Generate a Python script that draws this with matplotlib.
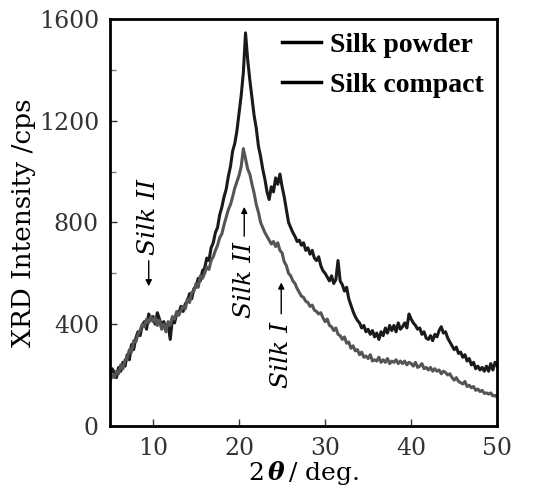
import matplotlib.pyplot as plt
import numpy as np
from matplotlib.ticker import MultipleLocator

plt.rcParams['font.family'] = 'DejaVu Serif'
plt.rcParams['mathtext.fontset'] = 'dejavuserif'

# 2-theta grid, 0.25 deg steps from 5 to 50
two_theta = np.arange(5, 50.01, 0.25)

# intensities (cps), four values per degree
silk_powder = [
    195, 225, 210, 190,  230, 215, 250, 235,  280, 260, 320, 300,  345, 370, 355, 395,
    410, 380, 440, 415,  430, 400, 445, 420,  395, 410, 380, 400,  340, 420, 405, 440,
    445, 470, 450, 480,  490, 520, 500, 540,  545, 580, 570, 610,  620, 660, 650, 700,
    720, 760, 780, 830,  860, 900, 930, 980,  1020, 1080, 1110, 1160,  1230, 1300, 1390, 1545,
    1440, 1360, 1290, 1220,  1170, 1100, 1060, 1010,  970, 920, 890, 940,  920, 975, 950, 990,
    940, 900, 850, 800,  780, 760, 745, 725,  730, 710, 720, 690,  700, 675, 690, 660,
    650, 665, 630, 610,  600, 585, 570, 590,  560, 575, 650, 570,  555, 530, 545, 500,
    475, 450, 430, 415,  405, 385, 395, 370,  380, 360, 375, 350,  365, 340, 370, 355,
    385, 365, 395, 375,  395, 370, 405, 380,  390, 405, 385, 440,  420, 405, 395, 380,
    385, 360, 370, 345,  340, 355, 335, 360,  350, 375, 390, 365,  370, 345, 330, 315,
    300, 310, 285, 290,  270, 280, 255, 265,  240, 250, 225, 235,  220, 230, 215, 235,
    215, 245, 220, 250,  235,
]
silk_compact = [
    175, 200, 190, 215,  205, 240, 225, 260,  265, 300, 290, 335,  330, 360, 375, 400,
    390, 420, 405, 430,  410, 425, 395, 415,  380, 400, 370, 410,  395, 430, 420, 450,
    435, 455, 470, 460,  500, 485, 525, 530,  560, 545, 590, 580,  600, 625, 615, 650,
    665, 690, 710, 740,  755, 790, 820, 850,  870, 900, 935, 960,  985, 1020, 1090, 1050,
    1010, 990, 950, 915,  870, 840, 800, 780,  760, 745, 730, 715,  725, 705, 720, 690,
    680, 645, 630, 600,  590, 570, 560, 540,  525, 510, 505, 490,  485, 470, 475, 455,
    450, 440, 445, 425,  410, 420, 395, 390,  375, 385, 360, 355,  340, 350, 325, 330,
    305, 315, 295, 300,  280, 290, 270, 275,  265, 280, 255, 260,  255, 270, 250, 260,
    250, 265, 245, 255,  250, 260, 245, 255,  245, 255, 240, 250,  245, 235, 250, 230,
    235, 245, 225, 230,  220, 230, 215, 225,  215, 220, 205, 215,  210, 200, 205, 190,
    180, 190, 175, 170,  165, 175, 155, 160,  150, 155, 140, 145,  135, 140, 128, 130,
    125, 130, 118, 120,  112,
]

fig = plt.figure(figsize=(5.5, 4.97), dpi=100)
ax = fig.add_axes([0.2, 0.143, 0.704, 0.819])

ax.plot(two_theta, silk_powder, color='#1a1a1a', lw=2.2, label='Silk powder')
ax.plot(two_theta, silk_compact, color='#555555', lw=2.2, label='Silk compact')

ax.set_xlim(5, 50)
ax.set_ylim(0, 1600)
ax.xaxis.set_major_locator(MultipleLocator(10))
ax.yaxis.set_major_locator(MultipleLocator(400))
ax.yaxis.set_minor_locator(MultipleLocator(200))
ax.tick_params(direction='in', length=5, width=1, labelsize=17, colors='#333333', pad=8)
ax.tick_params(which='minor', direction='in', length=4, width=1, color='#777777')
for sp in ax.spines.values():
    sp.set_linewidth(2)

ax.set_ylabel('XRD Intensity /cps', fontsize=19, labelpad=2)
ax.set_xlabel(r'2$\,\boldsymbol{\theta}\,$/ deg.', fontsize=18, labelpad=-1)

leg = ax.legend(loc='upper right', frameon=False, handlelength=1.4, handletextpad=0.3,
                borderaxespad=0.1, labelspacing=0.5,
                prop={'family': 'Liberation Serif', 'weight': 'bold', 'size': 20})
for line in leg.get_lines():
    line.set_color('black')
    line.set_linewidth(2.5)

# peak markers
lab = dict(rotation=90, style='italic', fontsize=18, ha='center', va='center')
arr = dict(arrowstyle='-|>', color='black', lw=1, mutation_scale=9)
ax.text(9.5, 820, 'Silk II', **lab)
ax.annotate('', xy=(9.5, 538), xytext=(9.5, 660), arrowprops=arr)
ax.text(20.6, 575, 'Silk II', **lab)
ax.annotate('', xy=(20.6, 872), xytext=(20.6, 735), arrowprops=arr)
ax.text(24.9, 280, 'Silk I', **lab)
ax.annotate('', xy=(24.9, 575), xytext=(24.9, 430), arrowprops=arr)

plt.savefig('out.png', dpi=100)
